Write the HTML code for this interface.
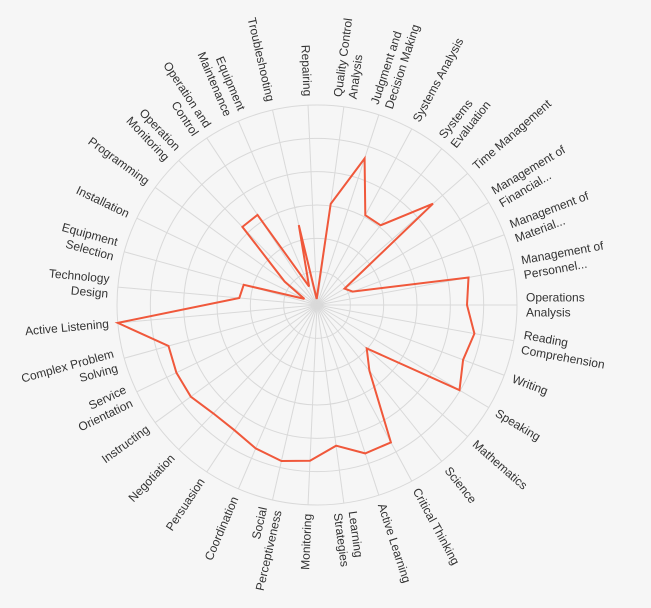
<!DOCTYPE html>
<html><head><meta charset="utf-8"><style>
html,body{margin:0;padding:0;background:#f6f6f6;}
svg{display:block;font-family:"Liberation Sans",sans-serif;}
</style></head><body>
<svg id="chart" width="651" height="608" viewBox="0 0 651 608"></svg>
<script>
const categories = ["Operations\nAnalysis","Reading\nComprehension","Writing","Speaking","Mathematics","Science","Critical Thinking","Active Learning","Learning\nStrategies","Monitoring","Social\nPerceptiveness","Coordination","Persuasion","Negotiation","Instructing","Service\nOrientation","Complex Problem\nSolving","Active Listening","Technology\nDesign","Equipment\nSelection","Installation","Programming","Operation\nMonitoring","Operation and\nControl","Equipment\nMaintenance","Troubleshooting","Repairing","Quality Control\nAnalysis","Judgment and\nDecision Making","Systems Analysis","Systems\nEvaluation","Time Management","Management of\nFinancial...","Management of\nMaterial...","Management of\nPersonnel..."];
const values = [0.75,0.80,0.78,0.83,0.33,0.42,0.78,0.78,0.71,0.78,0.80,0.78,0.75,0.75,0.78,0.78,0.77,1.0,0.39,0.38,0.07,0.2,0.54,0.54,0.1,0.41,0.03,0.51,0.77,0.51,0.51,0.77,0.16,0.19,0.77];
const ringLevels = [1,2,3,4,5,6];

const NS="http://www.w3.org/2000/svg";
const svg=document.getElementById('chart');
const cx=317, cy=305, R=200, N=categories.length;
function ang(i){return i*2*Math.PI/N;}
function px(i,v){return cx+Math.cos(ang(i))*R*v;}
function py(i,v){return cy+Math.sin(ang(i))*R*v;}
function mk(t,a){const e=document.createElementNS(NS,t);for(const k in a)e.setAttribute(k,a[k]);svg.appendChild(e);return e;}

ringLevels.forEach(l=>{
  const c=mk('circle',{cx:cx,cy:cy,r:R*l/ringLevels.length,fill:'none',stroke:'#d9d9d9','stroke-width':1});
  
  
});
categories.forEach((c,i)=>{
  const l=mk('line',{x1:cx,y1:cy,x2:px(i,1),y2:py(i,1),stroke:'#d9d9d9','stroke-width':1});
  
  
});
const pts=values.map((v,i)=>px(i,v).toFixed(1)+','+py(i,v).toFixed(1)).join(' ');
const poly=mk('polygon',{points:pts,fill:'none',stroke:'#f0583b','stroke-width':2,'stroke-linejoin':'miter'});



categories.forEach((c,i)=>{
  const deg=ang(i)*180/Math.PI;
  const left=deg>90&&deg<270;
  const rot=left?deg-180:deg;
  const x=px(i,1.045), y=py(i,1.045);
  const lines=c.split('\n');
  const g=mk('text',{x:x,y:y,'font-size':12,fill:'#333','text-anchor':left?'end':'start',transform:'rotate('+rot.toFixed(2)+' '+x.toFixed(1)+' '+y.toFixed(1)+')'});
  
  
  const lh=15, off=-(lines.length-1)*lh/2+4;
  lines.forEach((s,k)=>{
    const t=document.createElementNS(NS,'tspan');
    t.setAttribute('x',x.toFixed(1));
    t.setAttribute('y',(y+off+k*lh).toFixed(1));
    t.textContent=s;
    g.appendChild(t);
  });
});
</script>
</body></html>
